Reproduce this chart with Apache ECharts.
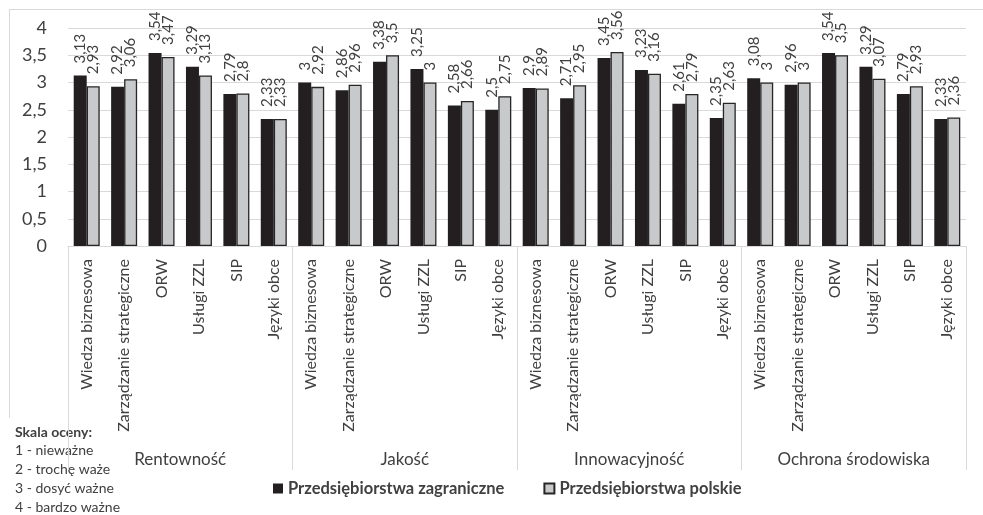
<!DOCTYPE html>
<html>
<head>
<meta charset="utf-8">
<script src="https://cdn.jsdelivr.net/npm/echarts@6/dist/echarts.min.js"></script>
<style>
  html, body { margin: 0; padding: 0; background: #fff; }
  #chart { width: 983px; height: 515px; }
</style>
</head>
<body>
<div id="chart"></div>
<script>
// Factor groups and the competence areas repeated within each group
const groups = ['Rentowność', 'Jakość', 'Innowacyjność', 'Ochrona środowiska'];
const areas = ['Wiedza biznesowa', 'Zarządzanie strategiczne', 'ORW', 'Usługi ZZL', 'SIP', 'Języki obce'];

// Mean ratings, in group order (6 areas per group)
const foreignFirms = [
  3.13, 2.92, 3.54, 3.29, 2.79, 2.33,
  3.00, 2.86, 3.38, 3.25, 2.58, 2.50,
  2.90, 2.71, 3.45, 3.23, 2.61, 2.35,
  3.08, 2.96, 3.54, 3.29, 2.79, 2.33
];
const polishFirms = [
  2.93, 3.06, 3.47, 3.13, 2.80, 2.33,
  2.92, 2.96, 3.50, 3.00, 2.66, 2.75,
  2.89, 2.95, 3.56, 3.16, 2.79, 2.63,
  3.00, 3.00, 3.50, 3.07, 2.93, 2.36
];

const yTicks = { min: 0, max: 4, step: 0.5 };
const seriesNames = ['Przedsiębiorstwa zagraniczne', 'Przedsiębiorstwa polskie'];
const scaleNotes = ['Skala oceny:', '1 - nieważne', '2 - trochę waże', '3 - dosyć ważne', '4 - bardzo ważne'];

const categories = [];
groups.forEach(() => areas.forEach(a => categories.push(a)));

const FONT = 'Lato, "Open Sans", sans-serif';
const TXT = '#404040';
const GRID = '#d9d9d9';
const fmt = v => String(+v).replace('.', ',');

const valueLabel = {
  show: true,
  position: 'top',
  rotate: 90,
  align: 'left',
  verticalAlign: 'middle',
  distance: 12,
  fontFamily: FONT,
  fontSize: 15,
  color: TXT,
  formatter: p => fmt(p.value)
};

const chart = echarts.init(document.getElementById('chart'), null, { renderer: 'canvas' });

const graphics = [
  // light frame around the chart area
  { type: 'line', shape: { x1: 9, y1: 9.5, x2: 983, y2: 9.5 }, style: { stroke: GRID, lineWidth: 1 }, silent: true },
  { type: 'line', shape: { x1: 9.5, y1: 9, x2: 9.5, y2: 418 }, style: { stroke: GRID, lineWidth: 1 }, silent: true }
];
scaleNotes.forEach((t, i) => {
  graphics.push({
    type: 'text',
    left: 15,
    top: 425 + i * 18.75,
    style: {
      text: t,
      font: (i === 0 ? 'bold ' : '') + '14px ' + FONT,
      fill: TXT
    }
  });
});

chart.setOption({
  animation: false,
  textStyle: { fontFamily: FONT },
  grid: { left: 68, right: 17, top: 28, bottom: 269, containLabel: false },
  legend: {
    data: seriesNames,
    left: 273,
    top: 480,
    padding: 0,
    itemWidth: 10,
    itemHeight: 10,
    itemGap: 39,
    icon: 'rect',
    textStyle: { fontFamily: FONT, fontSize: 16.5, fontWeight: 'bold', color: TXT }
  },
  xAxis: [
    {
      type: 'category',
      data: categories,
      position: 'bottom',
      axisLine: { lineStyle: { color: GRID, width: 1 } },
      axisTick: { show: false },
      axisLabel: {
        interval: 0,
        rotate: 90,
        margin: 13,
        fontFamily: FONT,
        fontSize: 16,
        color: TXT
      }
    },
    {
      type: 'category',
      data: groups,
      position: 'bottom',
      axisLine: { show: false },
      axisTick: { show: true, interval: 0, length: 224, lineStyle: { color: GRID, width: 1 } },
      axisLabel: {
        interval: 0,
        margin: 205,
        fontFamily: FONT,
        fontSize: 17,
        color: TXT
      }
    }
  ],
  yAxis: {
    type: 'value',
    min: yTicks.min,
    max: yTicks.max,
    interval: yTicks.step,
    axisLine: { show: false },
    axisTick: { show: false },
    splitLine: { lineStyle: { color: GRID, width: 1 } },
    axisLabel: {
      margin: 21,
      fontFamily: FONT,
      fontSize: 18,
      color: TXT,
      formatter: v => fmt(v)
    }
  },
  series: [
    {
      name: seriesNames[0],
      type: 'bar',
      data: foreignFirms,
      barWidth: 13,
      barGap: '0%',
      itemStyle: { color: '#231f20' },
      label: valueLabel
    },
    {
      name: seriesNames[1],
      type: 'bar',
      data: polishFirms,
      barWidth: 13,
      barGap: '0%',
      itemStyle: { color: '#c8c9cb', borderColor: '#262626', borderWidth: 1.3 },
      label: valueLabel
    }
  ],
  graphic: graphics
});
</script>
</body>
</html>
